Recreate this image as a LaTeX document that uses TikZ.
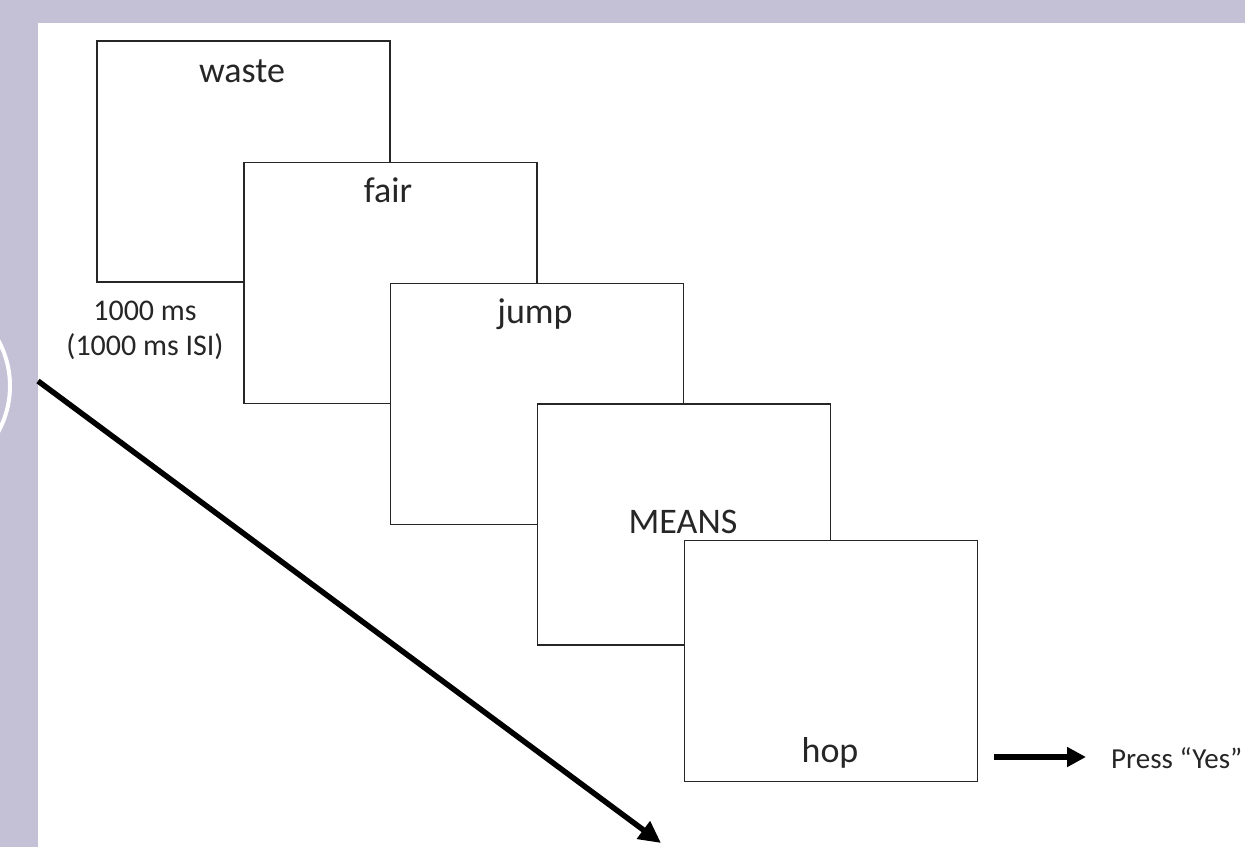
\documentclass[tikz,border=0pt]{standalone}
\usepackage{fontspec}
\setmainfont{Carlito}
\usetikzlibrary{arrows.meta}
\definecolor{frame}{HTML}{C4C0D6}
\definecolor{ink}{HTML}{262626}
\begin{document}
\begin{tikzpicture}[x=1pt,y=-1pt,
  stim/.style={draw=ink, line width=1.6pt, fill=white, minimum width=293pt,
    minimum height=241pt, inner sep=0pt},
  word/.style={text=ink, font=\fontsize{36}{40}\selectfont, anchor=base, inner sep=0pt},
  note/.style={text=ink, font=\fontsize{30}{34}\selectfont, anchor=base, inner sep=0pt},
  flow/.style={line width=5.5pt, -{Triangle[length=22pt,width=21pt]}},
  respflow/.style={line width=5.5pt, -{Triangle[length=19pt,width=19pt]}}]
\useasboundingbox (0,0) rectangle (1245,847);
% slide background with its lavender frame
\fill[frame] (0,0) rectangle (1245,847);
\fill[white] (38,23) rectangle (1245,847);
\begin{scope}
  \clip (0,23) rectangle (38,847);
  \draw[white, line width=4pt] (-85,386) circle (95);
\end{scope}

% stimulus screens, each laid over the previous one
\node[stim] (b1) at (243.5,161.5) {};
\node[stim] (b2) at (390.5,283) {};
\node[stim] (b3) at (537,404) {};
\node[stim] (b4) at (684,524.5) {};
\node[stim] (b5) at (831,661) {};

% words shown on the screens
\node[word] (w1) at (242,82) {waste};
\node[word] (w2) at (388,202) {fair};
\node[word] (w3) at (535,323) {jump};
\node[word] (w4) at (683,533) {MEANS};
\node[word] (w5) at (830,762) {hop};

% timing and response
\node[note] (t1) at (145,320) {1000 ms};
\node[note] (t2) at (145,355) {(1000 ms ISI)};
\node[note, anchor=base west, font=\fontsize{29}{33}\selectfont] (resp) at (1111,768) {Press “Yes”};

% time axis
\coordinate (tstart) at (38,381);
\coordinate (tend) at (661,843);
\draw[flow] (tstart) -- (tend);

% response arrow
\coordinate (rstart) at (994,757);
\draw[respflow] (rstart) -- ([xshift=-25pt]resp.west |- rstart);
\end{tikzpicture}
\end{document}
